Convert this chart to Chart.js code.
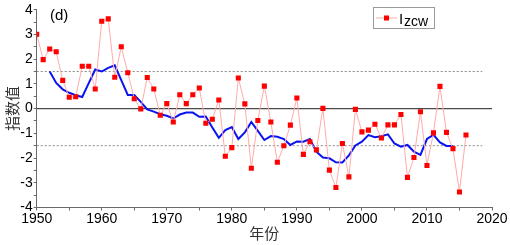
<!DOCTYPE html>
<html>
<head>
<meta charset="utf-8">
<script src="https://cdn.jsdelivr.net/npm/chart.js@4/dist/chart.umd.min.js"></script>
<style>
html,body{margin:0;padding:0;background:#fff;}
canvas{display:block;}
</style>
</head>
<body>
<canvas id="c" width="510" height="245"></canvas>
<script>
// ---- data ----
const years = [1950,1951,1952,1953,1954,1955,1956,1957,1958,1959,
  1960,1961,1962,1963,1964,1965,1966,1967,1968,1969,
  1970,1971,1972,1973,1974,1975,1976,1977,1978,1979,
  1980,1981,1982,1983,1984,1985,1986,1987,1988,1989,
  1990,1991,1992,1993,1994,1995,1996,1997,1998,1999,
  2000,2001,2002,2003,2004,2005,2006,2007,2008,2009,
  2010,2011,2012,2013,2014,2015,2016];
const izcw = [3.01,1.98,2.41,2.30,1.14,0.46,0.48,1.71,1.71,0.79,
  3.53,3.63,1.27,2.50,1.45,0.40,-0.01,1.26,0.79,-0.27,
  0.20,-0.54,0.56,0.20,0.56,0.83,-0.59,-0.43,0.35,-1.93,
  -1.58,1.24,0.19,-2.41,-0.48,0.91,-0.54,-2.17,-1.50,-0.67,
  0.43,-1.85,-1.34,-1.67,0.01,-2.49,-3.19,-1.41,-2.76,-0.03,
  -0.94,-0.87,-0.63,-1.19,-0.66,-0.66,-0.24,-2.78,-1.98,-0.13,
  -2.30,-0.98,0.90,-0.96,-1.62,-3.37,-1.07];
const smoothYears = [1952,1953,1954,1955,1956,1957,1958,1959,
  1960,1961,1962,1963,1964,1965,1966,1967,1968,1969,
  1970,1971,1972,1973,1974,1975,1976,1977,1978,1979,
  1980,1981,1982,1983,1984,1985,1986,1987,1988,1989,
  1990,1991,1992,1993,1994,1995,1996,1997,1998,1999,
  2000,2001,2002,2003,2004,2005,2006,2007,2008,2009,
  2010,2011,2012,2013,2014];
const smooth = [1.50,1.04,0.78,0.64,0.54,0.47,1.03,1.58,
  1.50,1.65,1.75,1.15,0.55,0.55,0.27,-0.03,-0.12,-0.23,
  -0.29,-0.40,-0.24,-0.16,-0.16,-0.33,-0.32,-0.76,-1.18,-0.87,
  -0.75,-1.23,-0.96,-0.54,-0.90,-1.27,-1.11,-1.14,-1.23,-1.47,
  -1.33,-1.34,-1.23,-1.74,-1.98,-2.01,-2.17,-2.18,-1.89,-1.49,
  -1.34,-1.07,-1.16,-1.12,-1.04,-1.41,-1.54,-1.47,-1.74,-1.87,
  -1.23,-1.06,-1.37,-1.51,-1.51];
const zeroLevel = 0;
const zeroSpan = [1950, 2020];
const thresholds = [1.5, -1.5];
const thresholdSpan = [1950, 2018.5];
const xTickLabels = [1950,1960,1970,1980,1990,2000,2010,2020];
const yTickLabels = [-4,-3,-2,-1,0,1,2,3,4];
const seriesName = {main: 'I', sub: 'zcw'};
const panelLabel = '(d)';
const xTitle = '年份';
const yTitle = '指数值';

const LAT = '"Liberation Sans", Arial, sans-serif';
const CJK = '"Noto Sans CJK SC", sans-serif';

const pts = (xs, ys) => xs.map((x, i) => ({x: x, y: ys[i]}));

const datasets = [
  {
    label: 'izcw', data: pts(years, izcw), order: 0,
    borderColor: '#ffaaaa', borderWidth: 1,
    pointStyle: 'rect', pointRadius: 3.6, pointBorderWidth: 0,
    pointBackgroundColor: '#ff0000', tension: 0
  },
  {
    label: 'smooth', data: pts(smoothYears, smooth), order: 1,
    borderColor: '#0a14f0', borderWidth: 2, pointRadius: 0, tension: 0
  },
  {
    label: 'zero', data: zeroSpan.map(x => ({x: x, y: zeroLevel})), order: 2,
    borderColor: '#4a4a4a', borderWidth: 1.2, pointRadius: 0
  }
];
thresholds.forEach(t => datasets.push({
  label: 'th' + t, data: thresholdSpan.map(x => ({x: x, y: t})), order: 3,
  borderColor: '#8a8a8a', borderWidth: 1, borderDash: [2, 2], pointRadius: 0
}));

const decor = {
  id: 'decor',
  afterDraw(chart) {
    const ctx = chart.ctx;
    ctx.save();
    // panel label
    ctx.fillStyle = '#000';
    ctx.font = '15px ' + LAT;
    ctx.textBaseline = 'alphabetic';
    ctx.textAlign = 'left';
    ctx.fillText(panelLabel, 50, 20);
    // legend box
    ctx.strokeStyle = '#9a9a9a';
    ctx.lineWidth = 1;
    ctx.strokeRect(373.5, 7.5, 61, 21);
    ctx.strokeStyle = '#ffaaaa';
    ctx.beginPath(); ctx.moveTo(376, 18); ctx.lineTo(397, 18); ctx.stroke();
    ctx.fillStyle = '#ff0000';
    ctx.fillRect(384, 15.5, 5, 5);
    ctx.fillStyle = '#000';
    ctx.font = '15px ' + LAT;
    ctx.fillText(seriesName.main, 399, 24);
    ctx.font = '14px ' + LAT;
    ctx.fillText(seriesName.sub, 404, 26);
    ctx.restore();
  }
};

new Chart(document.getElementById('c'), {
  type: 'line',
  data: { datasets: datasets },
  options: {
    responsive: false,
    animation: false,
    events: [],
    layout: { padding: { top: 9.7, right: 18, left: 0, bottom: 0 } },
    plugins: { legend: { display: false }, tooltip: { enabled: false } },
    scales: {
      x: {
        type: 'linear', min: 1950, max: 2020,
        afterFit(s) { s.height = 37.5; },
        border: { display: true, color: '#6a6a6a', width: 1 },
        grid: { display: true, drawOnChartArea: false, drawTicks: true, tickLength: 3, color: '#6a6a6a' },
        ticks: {
          stepSize: 5, autoSkip: false, maxRotation: 0, padding: 0,
          color: '#000', font: { family: LAT, size: 14 },
          callback: v => xTickLabels.includes(v) ? String(v) : ''
        },
        title: { display: true, text: xTitle, color: '#333', font: { family: CJK, size: 15 }, padding: { top: 0, bottom: 3 } }
      },
      y: {
        type: 'linear', min: -4, max: 4,
        afterFit(s) { s.width = 36.7; },
        border: { display: true, color: '#6a6a6a', width: 1 },
        grid: { display: true, drawOnChartArea: false, drawTicks: true, tickLength: 3, color: '#6a6a6a' },
        ticks: {
          stepSize: 0.5, autoSkip: false, padding: 1,
          color: '#000', font: { family: LAT, size: 14 },
          callback: v => yTickLabels.includes(v) ? String(v) : ''
        },
        title: { display: true, text: yTitle, color: '#333', font: { family: CJK, size: 15 }, padding: { top: 3, bottom: 0 } }
      }
    }
  },
  plugins: [decor]
});
</script>
</body>
</html>
